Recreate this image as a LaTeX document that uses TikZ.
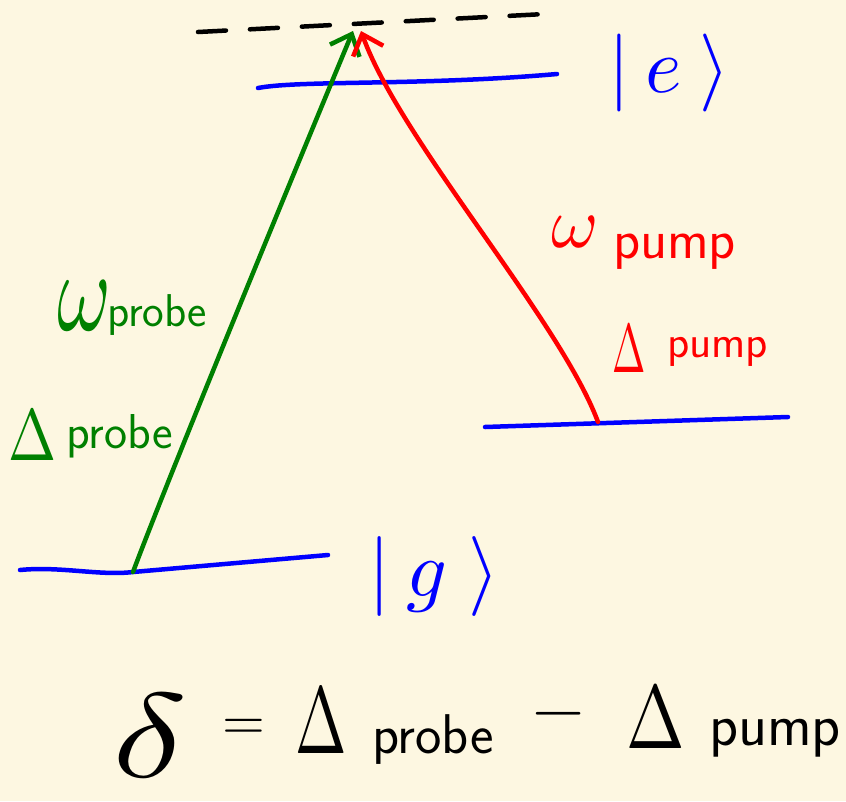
\documentclass[tikz,border=0pt]{standalone}
\usepackage{fontspec}
\usepackage{unicode-math}
\setmathfont{Latin Modern Math}
\usepackage{graphicx}
\usetikzlibrary{arrows.meta}
\definecolor{bgc}{HTML}{FDF7E1}
\definecolor{lvlc}{RGB}{0,0,255}
\definecolor{grnc}{RGB}{0,128,0}
\definecolor{redc}{RGB}{255,0,0}
\newcommand{\fsz}[1]{\fontsize{#1}{#1}\selectfont}
\tikzset{
  lvl/.style={draw=lvlc,line width=4.5pt,line cap=round},
  virt/.style={draw=black,line width=4.5pt,line cap=round,dash pattern=on 28pt off 24pt},
  beam/.style={line width=4.5pt,line cap=round,-{Straight Barb[length=18pt,width=32pt,line width=4.5pt]}},
  lbl/.style={inner sep=0pt,outer sep=0pt,anchor=base west},
}
\begin{document}
\begin{tikzpicture}[x=1pt,y=-1pt]
\fill[bgc] (0,0) rectangle (846,801);
\useasboundingbox (0,0) rectangle (846,801);
% level coordinates
\coordinate (v1) at (198,32);
\coordinate (v2) at (545,14);
\coordinate (e1) at (258,88);
\coordinate (e2) at (557,74);
\coordinate (p1) at (485,427);
\coordinate (p2) at (788,417);
\coordinate (g1) at (20,570);
\coordinate (g2) at (328,555);
\coordinate (gs) at (133,572);
\coordinate (gt) at (353,31);
\coordinate (rs) at (598,422);
\coordinate (rt) at (361,31);
% levels
\draw[virt] (v1) -- (v2);
\draw[lvl] (e1) .. controls (300,80) and (420,86) .. (e2);
\draw[lvl] (p1) -- (p2);
\draw[lvl] (g1) .. controls (60,566) and (100,576) .. (gs) -- (g2);
% beams
\draw[beam,grnc] (gs) .. controls (175,460) and (320,110) .. (gt);
\draw[beam,redc] (rs) .. controls (560,320) and (400,140) .. (rt);
% state labels
\node[lbl,text=lvlc] (elab) at (608,92) {\fsz{78}$|\hspace{16pt}e\hspace{18pt}\rangle$};
\node[lbl,text=lvlc] (glab) at (368,596) {\fsz{80}$|\hspace{16pt}g\hspace{22pt}\rangle$};
% probe labels
\node[lbl,text=grnc] (wpr) at (57,330) {\scalebox{1}[1.4]{\fsz{82}$\omega$}};
\node[lbl,text=grnc] (wprs) at (107,326) {\fsz{46}\sffamily probe};
\node[lbl,text=grnc] (dpr) at (9,460) {\scalebox{0.79}[1]{\fsz{73}$\Delta$}};
\node[lbl,text=grnc] (dprs) at (66,448) {\fsz{49}\sffamily probe};
% pump labels
\node[lbl,text=redc] (wpu) at (551,247) {\fsz{72}$\omega$};
\node[lbl,text=redc] (wpus) at (613,258) {\fsz{56}\sffamily pump};
\node[lbl,text=redc] (dpu) at (612,372) {\scalebox{0.58}[1]{\fsz{69}$\Delta$}};
\node[lbl,text=redc] (dpus) at (667,357) {\fsz{46}\sffamily pump};
% formula
\node[lbl] (fdel) at (112,777) {\scalebox{1.3}[1]{\fsz{120}$\delta$}};
\node[lbl] (feq) at (222,739) {\fsz{55}$=$};
\node[lbl] (fd1) at (295,753) {\scalebox{0.65}[1]{\fsz{95}$\Delta$}};
\node[lbl] (fprobe) at (372,753) {\fsz{56}\sffamily probe};
\node[lbl] (fminus) at (532,730) {\fsz{67}$-$};
\node[lbl] (fd2) at (626,748) {\scalebox{0.78}[1]{\fsz{90}$\Delta$}};
\node[lbl] (fpump) at (709,745) {\fsz{60}\sffamily pump};
\end{tikzpicture}
\end{document}
